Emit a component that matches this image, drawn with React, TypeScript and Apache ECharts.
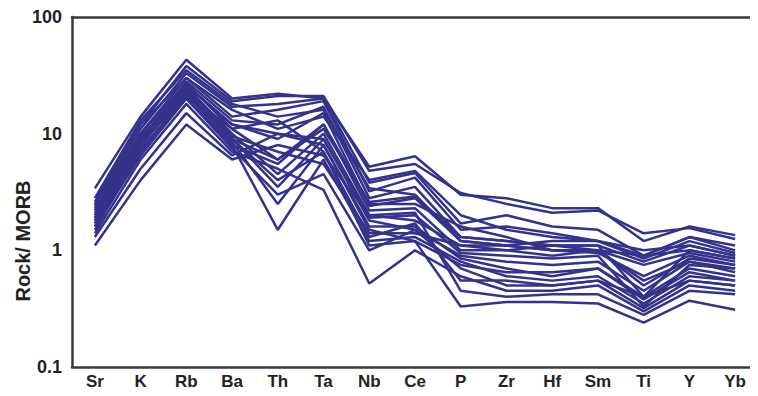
import React, { useEffect, useRef } from "react";
import * as echarts from "echarts";

// Trace elements, MORB-normalised spider diagram
const elements = ["Sr", "K", "Rb", "Ba", "Th", "Ta", "Nb", "Ce", "P", "Zr", "Hf", "Sm", "Ti", "Y", "Yb"];

const sample01 = [3.4, 14, 43, 20, 22, 20, 5.2, 6.4, 3.0, 2.8, 2.3, 2.3, 1.2, 1.6, 1.35];
const sample02 = [2.6, 12, 38, 19, 21, 21, 4.8, 5.5, 3.1, 2.5, 2.1, 2.2, 1.4, 1.55, 1.25];
const sample03 = [2.4, 11, 33, 17, 18, 20, 3.8, 4.6, 1.7, 2.0, 1.6, 1.5, 0.9, 1.3, 1.1];
const sample04 = [2.2, 10, 30, 14, 16, 19, 3.2, 4.2, 1.5, 1.6, 1.4, 1.2, 0.85, 1.2, 0.95];
const sample05 = [2.0, 9, 28, 13, 12, 17, 2.8, 3.5, 1.3, 1.2, 1.1, 1.1, 0.8, 1.1, 0.9];
const sample06 = [1.9, 8.5, 26, 12, 9, 15, 2.4, 2.8, 1.2, 1.1, 1.0, 1.0, 0.9, 1.0, 0.85];
const sample07 = [2.3, 10, 27, 11, 6, 12, 2.2, 2.3, 1.0, 1.0, 0.9, 1.0, 0.75, 0.95, 0.8];
const sample08 = [1.8, 9, 25, 10, 4.5, 10, 2.0, 1.8, 1.1, 1.1, 1.0, 0.95, 0.6, 0.9, 0.75];
const sample09 = [1.7, 8, 24, 9, 3.5, 9, 1.8, 1.5, 0.9, 0.8, 0.75, 0.8, 0.45, 0.8, 0.7];
const sample10 = [2.1, 8, 23, 8.5, 2.5, 8, 1.6, 1.6, 0.85, 0.7, 0.6, 0.7, 0.4, 0.7, 0.6];
const sample11 = [1.5, 7, 22, 8, 1.5, 6, 1.2, 1.3, 0.8, 0.6, 0.55, 0.6, 0.35, 0.6, 0.55];
const sample12 = [1.6, 7.5, 20, 7.5, 3.0, 4.5, 1.0, 1.5, 0.7, 0.5, 0.5, 0.55, 0.4, 0.55, 0.5];
const sample13 = [1.4, 6, 18, 7, 5, 3.3, 0.52, 1.0, 0.6, 0.45, 0.45, 0.5, 0.3, 0.5, 0.45];
const sample14 = [1.1, 4, 12, 6, 8, 6.5, 2.0, 2.1, 0.45, 0.4, 0.42, 0.42, 0.28, 0.45, 0.42];
const sample15 = [1.3, 5, 15, 6.5, 10, 8, 1.5, 1.2, 0.33, 0.36, 0.36, 0.35, 0.24, 0.37, 0.31];
const sample16 = [2.5, 12, 30, 16, 11, 14, 4.0, 4.8, 2.0, 1.5, 1.3, 1.2, 0.9, 1.3, 1.0];
const sample17 = [2.8, 13, 35, 18, 14, 16, 3.4, 3.0, 1.2, 1.1, 1.2, 1.2, 1.0, 1.1, 0.9];
const sample18 = [1.9, 9, 24, 9.5, 7, 5.5, 1.4, 1.4, 1.1, 1.0, 1.1, 1.0, 0.55, 0.8, 0.65];
const sample19 = [1.6, 6.5, 20, 8, 5.5, 12, 2.5, 2.5, 1.6, 1.3, 1.0, 1.0, 0.5, 0.85, 0.75];
const sample20 = [2.0, 9.5, 22, 11, 13, 7, 1.1, 1.2, 0.75, 0.65, 0.65, 0.7, 0.38, 0.65, 0.55];
const sample21 = [1.8, 8, 22, 9, 6, 11, 2.6, 2.9, 1.3, 1.2, 1.1, 1.1, 0.4, 1.0, 0.85];
const sample22 = [2.2, 9, 26, 12, 10, 9, 1.9, 2.0, 0.95, 0.9, 0.85, 0.9, 0.33, 0.75, 0.7];
const sample23 = [1.7, 7, 21, 9, 4, 7, 1.3, 1.7, 0.55, 0.55, 0.5, 0.55, 0.32, 0.55, 0.5];

const samples = [
  sample01, sample02, sample03, sample04, sample05,
  sample06, sample07, sample08, sample09, sample10,
  sample11, sample12, sample13, sample14, sample15,
  sample16, sample17, sample18, sample19, sample20,
  sample21, sample22, sample23,
];

const yTicks = [0.1, 1, 10, 100];

const FONT = '"Liberation Sans", Arial, Helvetica, sans-serif';
const AXIS_COLOR = "#3a3a3a";
const LINE_COLOR = "#33338c";

export default function App() {
  const ref = useRef<HTMLDivElement>(null);

  useEffect(() => {
    if (!ref.current) return;
    const chart = echarts.init(ref.current, undefined, { renderer: "svg" });

    chart.setOption({
      animation: false,
      backgroundColor: "#ffffff",
      grid: { left: 72, top: 17, bottom: 29, right: -9 },
      xAxis: [
        {
          type: "category",
          data: elements,
          boundaryGap: true,
          position: "bottom",
          axisLine: { show: true, lineStyle: { color: AXIS_COLOR, width: 2.5 } },
          axisTick: { show: false },
          axisLabel: {
            color: "#222",
            fontFamily: FONT,
            fontWeight: "bold",
            fontSize: 17,
            margin: 6,
            interval: 0,
          },
          splitLine: { show: false },
        },
        {
          type: "category",
          data: elements,
          boundaryGap: true,
          position: "top",
          axisLine: { show: true, lineStyle: { color: AXIS_COLOR, width: 2.5 } },
          axisTick: { show: false },
          axisLabel: { show: false },
          splitLine: { show: false },
        },
      ],
      yAxis: {
        type: "log",
        logBase: 10,
        min: yTicks[0],
        max: yTicks[yTicks.length - 1],
        axisLine: { show: true, lineStyle: { color: AXIS_COLOR, width: 2.5 } },
        axisTick: { show: false },
        splitLine: { show: false },
        axisLabel: {
          color: "#222",
          fontFamily: FONT,
          fontWeight: "bold",
          fontSize: 18,
          margin: 10,
          formatter: (v: number) => (yTicks.some((t) => Math.abs(t - v) < 1e-9) ? String(v) : ""),
        },
      },
      graphic: [
        {
          type: "text",
          x: 23,
          y: 241,
          rotation: Math.PI / 2,
          style: {
            text: "Rock/ MORB",
            fill: "#222",
            font: `bold 20px ${FONT}`,
            align: "center",
            verticalAlign: "middle",
          },
        },
      ],
      series: samples.map((values, i) => ({
        name: `S${i + 1}`,
        type: "line",
        xAxisIndex: 0,
        data: values,
        symbol: "none",
        lineStyle: { color: LINE_COLOR, width: 2.5 },
        z: 2,
      })),
    });

    return () => chart.dispose();
  }, []);

  return <div ref={ref} style={{ width: 758, height: 396, margin: -8 }} />;
}
